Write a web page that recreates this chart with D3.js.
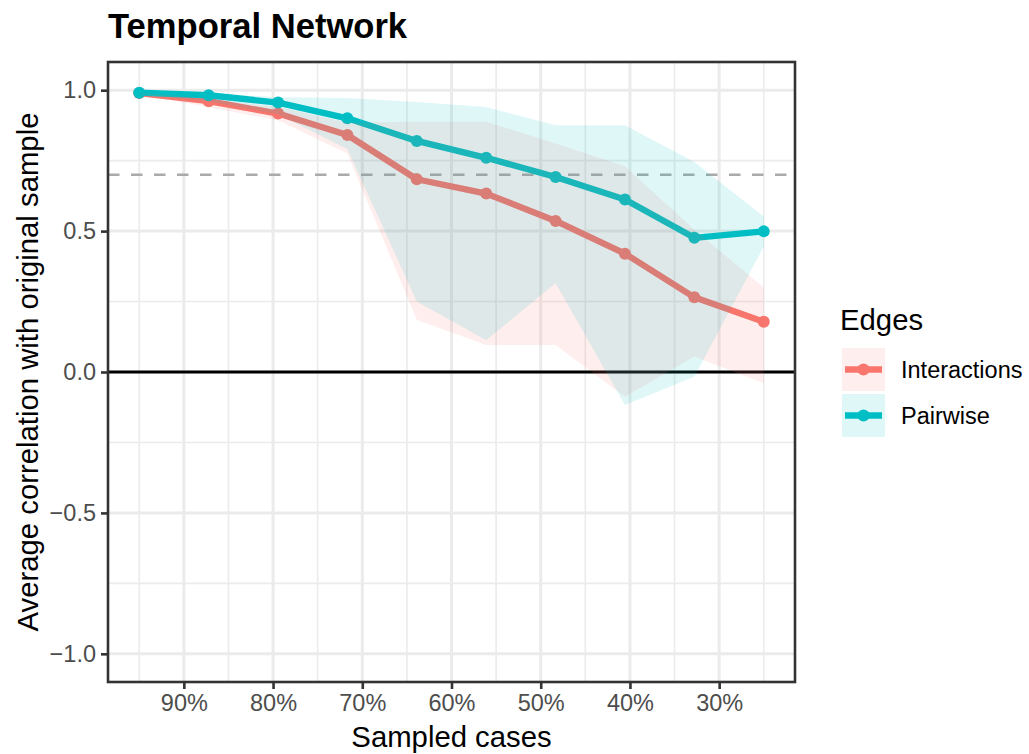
<!DOCTYPE html>
<html>
<head>
<meta charset="utf-8">
<script src="https://cdn.jsdelivr.net/npm/d3@7"></script>
<style>
  html, body { margin: 0; padding: 0; background: #ffffff; }
  svg { display: block; font-family: "Liberation Sans", Arial, Helvetica, sans-serif; }
</style>
</head>
<body>
<svg id="chart" width="1029" height="754"></svg>
<script>
// Proportion of cases kept in each case-dropping step
const sampledProps = [0.95, 0.8722, 0.7944, 0.7167, 0.6389, 0.5611, 0.4833, 0.4056, 0.3278, 0.25];

// Interactions edges: mean correlation and band bounds
const interactionsMean  = [0.990, 0.961, 0.917, 0.841, 0.684, 0.633, 0.536, 0.420, 0.265, 0.178];
const interactionsLower = [0.985, 0.940, 0.893, 0.775, 0.185, 0.096, 0.096, -0.088, 0.055, -0.040];
const interactionsUpper = [0.992, 0.970, 0.940, 0.885, 0.888, 0.888, 0.811, 0.730, 0.505, 0.300];

// Pairwise edges: mean correlation and band bounds
const pairwiseMean  = [0.991, 0.982, 0.956, 0.900, 0.820, 0.760, 0.692, 0.612, 0.476, 0.499];
const pairwiseLower = [0.985, 0.960, 0.915, 0.790, 0.250, 0.113, 0.315, -0.117, -0.017, 0.445];
const pairwiseUpper = [0.993, 0.990, 0.975, 0.972, 0.958, 0.940, 0.876, 0.876, 0.745, 0.552];

const seriesNames = ["Interactions", "Pairwise"];
const seriesColors = ["#F8766D", "#00BFC4"];

const xTicks = [0.9, 0.8, 0.7, 0.6, 0.5, 0.4, 0.3];
const xMinorTicks = [0.95, 0.85, 0.75, 0.65, 0.55, 0.45, 0.35, 0.25];
const yTicks = [-1, -0.5, 0, 0.5, 1];
const yMinorTicks = [-0.75, -0.25, 0.25, 0.75];
const cutoff = 0.7;

const titleText = "Temporal Network";
const xTitle = "Sampled cases";
const yTitle = "Average correlation with original sample";
const legendTitle = "Edges";

// Build the long table from the arrays above
const series = seriesNames.map((name, i) => {
  const mean = i === 0 ? interactionsMean : pairwiseMean;
  const lo = i === 0 ? interactionsLower : pairwiseLower;
  const hi = i === 0 ? interactionsUpper : pairwiseUpper;
  return {
    name, color: seriesColors[i],
    values: sampledProps.map((p, j) => ({ p, mean: mean[j], lo: lo[j], hi: hi[j] }))
  };
});

const svg = d3.select("#chart");
const panel = { left: 108, right: 795, top: 62, bottom: 682 };

const xPad = (sampledProps[0] - sampledProps[sampledProps.length - 1]) * 0.05;
const x = d3.scaleLinear()
  .domain([d3.max(sampledProps) + xPad, d3.min(sampledProps) - xPad])
  .range([panel.left, panel.right]);
const y = d3.scaleLinear()
  .domain([-1.1, 1.1])
  .range([panel.bottom, panel.top]);

const gridColor = "#EBEBEB";
const inkColor = "#333333";
const tickTextColor = "#4D4D4D";
const tickFont = 23.5;
const titleFont = 29.3;

// Panel background
svg.append("rect")
  .attr("x", panel.left).attr("y", panel.top)
  .attr("width", panel.right - panel.left).attr("height", panel.bottom - panel.top)
  .attr("fill", "#ffffff");

const grid = svg.append("g");
grid.selectAll(".vminor").data(xMinorTicks).join("line")
  .attr("x1", d => x(d)).attr("x2", d => x(d))
  .attr("y1", panel.top).attr("y2", panel.bottom)
  .attr("stroke", gridColor).attr("stroke-width", 1.6);
grid.selectAll(".hminor").data(yMinorTicks).join("line")
  .attr("y1", d => y(d)).attr("y2", d => y(d))
  .attr("x1", panel.left).attr("x2", panel.right)
  .attr("stroke", gridColor).attr("stroke-width", 1.6);
grid.selectAll(".vmajor").data(xTicks).join("line")
  .attr("x1", d => x(d)).attr("x2", d => x(d))
  .attr("y1", panel.top).attr("y2", panel.bottom)
  .attr("stroke", gridColor).attr("stroke-width", 3);
grid.selectAll(".hmajor").data(yTicks).join("line")
  .attr("y1", d => y(d)).attr("y2", d => y(d))
  .attr("x1", panel.left).attr("x2", panel.right)
  .attr("stroke", gridColor).attr("stroke-width", 3);

// Reference lines: zero and the 0.7 cutoff
svg.append("line")
  .attr("x1", panel.left).attr("x2", panel.right)
  .attr("y1", y(0)).attr("y2", y(0))
  .attr("stroke", "#000000").attr("stroke-width", 2.8);
svg.append("line")
  .attr("x1", panel.left).attr("x2", panel.right)
  .attr("y1", y(cutoff)).attr("y2", y(cutoff))
  .attr("stroke", "#AAAAAA").attr("stroke-width", 2.6)
  .attr("stroke-dasharray", "11.5,11.5");

// Mean lines and points
const line = d3.line().x(d => x(d.p)).y(d => y(d.mean));
const marks = svg.append("g");
series.forEach(s => {
  marks.append("path")
    .datum(s.values)
    .attr("d", line)
    .attr("fill", "none")
    .attr("stroke", s.color)
    .attr("stroke-width", 6.3)
    .attr("stroke-linejoin", "round");
  marks.selectAll(null).data(s.values).join("circle")
    .attr("cx", d => x(d.p)).attr("cy", d => y(d.mean))
    .attr("r", 6)
    .attr("fill", s.color);
});

// Translucent bands drawn over the lines
const area = d3.area().x(d => x(d.p)).y0(d => y(d.lo)).y1(d => y(d.hi));
const bands = svg.append("g");
series.forEach(s => {
  bands.append("path")
    .datum(s.values)
    .attr("d", area)
    .attr("fill", s.color)
    .attr("fill-opacity", 0.12);
});

// Panel border
svg.append("rect")
  .attr("x", panel.left).attr("y", panel.top)
  .attr("width", panel.right - panel.left).attr("height", panel.bottom - panel.top)
  .attr("fill", "none").attr("stroke", inkColor).attr("stroke-width", 2.6);

// Axes
const xAxis = d3.axisBottom(x).tickValues(xTicks)
  .tickFormat(d3.format(".0%")).tickSizeInner(7).tickSizeOuter(0).tickPadding(5);
const gx = svg.append("g").attr("transform", `translate(0,${panel.bottom})`).call(xAxis);
gx.select(".domain").remove();
gx.selectAll(".tick line").attr("stroke", inkColor).attr("stroke-width", 2.6);
gx.selectAll(".tick text")
  .attr("fill", tickTextColor).attr("font-size", tickFont)
  .attr("font-family", "Liberation Sans, Arial, sans-serif");

const yAxis = d3.axisLeft(y).tickValues(yTicks)
  .tickFormat(d => d === 0 ? "0.0" : d3.format(".1f")(d).replace("-", "\u2212"))
  .tickSizeInner(7).tickSizeOuter(0).tickPadding(5);
const gy = svg.append("g").attr("transform", `translate(${panel.left},0)`).call(yAxis);
gy.select(".domain").remove();
gy.selectAll(".tick line").attr("stroke", inkColor).attr("stroke-width", 2.6);
gy.selectAll(".tick text")
  .attr("fill", tickTextColor).attr("font-size", tickFont)
  .attr("font-family", "Liberation Sans, Arial, sans-serif");

// Titles
svg.append("text")
  .attr("x", panel.left).attr("y", 38)
  .attr("font-size", 34.6).attr("font-weight", "bold").attr("fill", "#000")
  .text(titleText);
svg.append("text")
  .attr("x", (panel.left + panel.right) / 2).attr("y", 747)
  .attr("text-anchor", "middle").attr("font-size", titleFont).attr("fill", "#000")
  .text(xTitle);
svg.append("text")
  .attr("transform", `translate(38,${(panel.top + panel.bottom) / 2}) rotate(-90)`)
  .attr("text-anchor", "middle").attr("font-size", titleFont).attr("fill", "#000")
  .text(yTitle);

// Legend
const legend = svg.append("g").attr("transform", "translate(840,0)");
legend.append("text")
  .attr("x", 0).attr("y", 330)
  .attr("font-size", titleFont).attr("fill", "#000")
  .text(legendTitle);
const keyTop = [348, 394];
series.forEach((s, i) => {
  const g = legend.append("g").attr("transform", `translate(2,${keyTop[i]})`);
  g.append("rect").attr("width", 43).attr("height", 43)
    .attr("fill", s.color).attr("fill-opacity", 0.12);
  g.append("line").attr("x1", 3).attr("x2", 40).attr("y1", 21.5).attr("y2", 21.5)
    .attr("stroke", s.color).attr("stroke-width", 6.3);
  g.append("circle").attr("cx", 21.5).attr("cy", 21.5).attr("r", 6).attr("fill", s.color);
  g.append("text").attr("x", 59).attr("y", 21.5).attr("dy", "0.35em")
    .attr("font-size", tickFont).attr("fill", "#000")
    .text(s.name);
});
</script>
</body>
</html>
